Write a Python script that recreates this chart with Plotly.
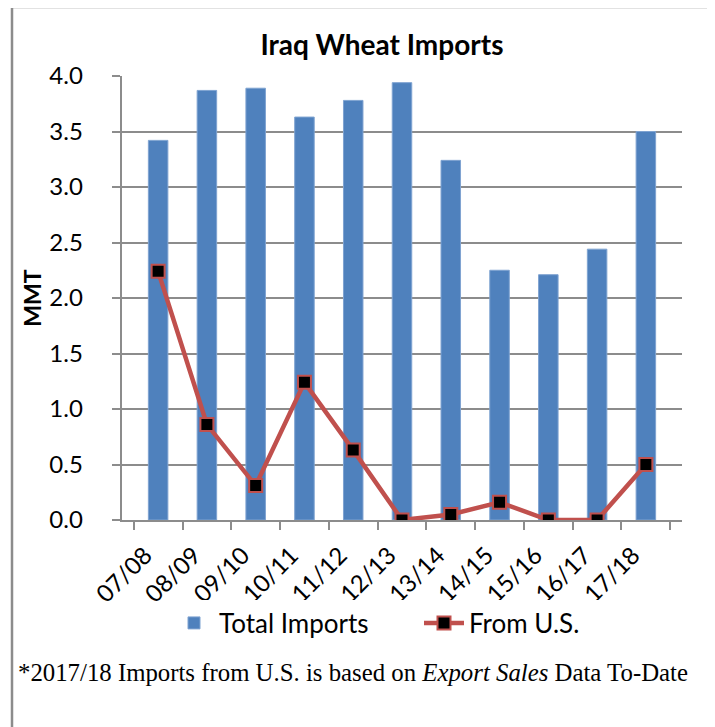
import plotly.graph_objects as go

categories = ["07/08", "08/09", "09/10", "10/11", "11/12", "12/13",
              "13/14", "14/15", "15/16", "16/17", "17/18"]
total_imports = [3.42, 3.87, 3.89, 3.63, 3.78, 3.94, 3.24, 2.25, 2.21, 2.44, 3.50]
from_us = [2.24, 0.86, 0.31, 1.24, 0.63, 0.0, 0.05, 0.16, 0.0, 0.0, 0.50]
y_ticks = [0.0, 0.5, 1.0, 1.5, 2.0, 2.5, 3.0, 3.5, 4.0]

W, H = 715, 727
OX, OY = 7, 8  # page offset of the plot div


def xp(px):
    return (px - OX) / W


def yp(py):
    return 1 - (py - OY) / H


FONT = "Lato"
GRID = "#8c8c8c"
PAD = "\u00a0" * 4

fig = go.Figure()
fig.add_trace(go.Bar(
    x=categories, y=total_imports, name="Total Imports",
    marker=dict(color="#4F81BD", line=dict(color="#7fa3d1", width=1)),
    width=0.4,
))
fig.add_trace(go.Scatter(
    x=categories, y=from_us, name="From U.S.", mode="lines+markers",
    line=dict(color="#C0504D", width=4.5),
    marker=dict(symbol="square", size=13, color="black",
                line=dict(color="#C0504D", width=2)),
))

fig.update_layout(
    width=W, height=H,
    margin=dict(l=0, r=0, t=0, b=0, autoexpand=False),
    paper_bgcolor="white", plot_bgcolor="white",
    font=dict(family=FONT, size=24, color="black"),
    showlegend=True,
    legend=dict(orientation="h", x=xp(168), xanchor="left", y=yp(623), yanchor="middle",
                font=dict(family=FONT, size=26), itemwidth=40, tracegroupgap=0,
                entrywidth=195),
    bargap=0.6,
    title=dict(text="<b>Iraq Wheat Imports</b>", x=xp(381), xanchor="center",
               y=yp(45), yanchor="middle", font=dict(family=FONT, size=28)),
    xaxis=dict(
        domain=[xp(121), xp(681)], automargin=False,
        type="category", tickson="boundaries",
        ticks="outside", ticklen=8, tickcolor=GRID, tickwidth=1.5,
        showline=True, linecolor=GRID, linewidth=1.5,
        showgrid=False, tickangle=-45,
        ticklabelshift=-13, ticklabelstandoff=10,
        tickfont=dict(family=FONT, size=24),
    ),
    yaxis=dict(
        domain=[yp(520), yp(76)], automargin=False,
        range=[0, 4.0], tickvals=y_ticks,
        ticktext=[f"{v:.1f}{PAD}" for v in y_ticks],
        ticks="outside", ticklen=8, tickcolor=GRID, tickwidth=1.5,
        showline=True, linecolor=GRID, linewidth=1.5,
        showgrid=True, gridcolor=GRID, gridwidth=1.5,
        zeroline=False,
        tickfont=dict(family=FONT, size=24),
        title=dict(text="<b>MMT</b>", font=dict(family=FONT, size=23), standoff=1),
    ),
)

fig.add_shape(type="line", xref="paper", yref="paper",
              x0=xp(11), x1=1.01, y0=yp(7), y1=yp(7),
              line=dict(color="#8c8c8c", width=2.5))
fig.add_shape(type="line", xref="paper", yref="paper",
              x0=xp(11), x1=xp(11), y0=-0.01, y1=yp(7),
              line=dict(color="#8c8c8c", width=2.5))

fig.add_annotation(
    text="*2017/18 Imports from U.S. is based on <i>Export Sales</i> Data To-Date",
    xref="paper", yref="paper", x=xp(15), xanchor="left",
    y=yp(672), yanchor="middle", showarrow=False,
    font=dict(family="Liberation Serif", size=24.8, color="black"),
)

fig.write_html("out.html")
